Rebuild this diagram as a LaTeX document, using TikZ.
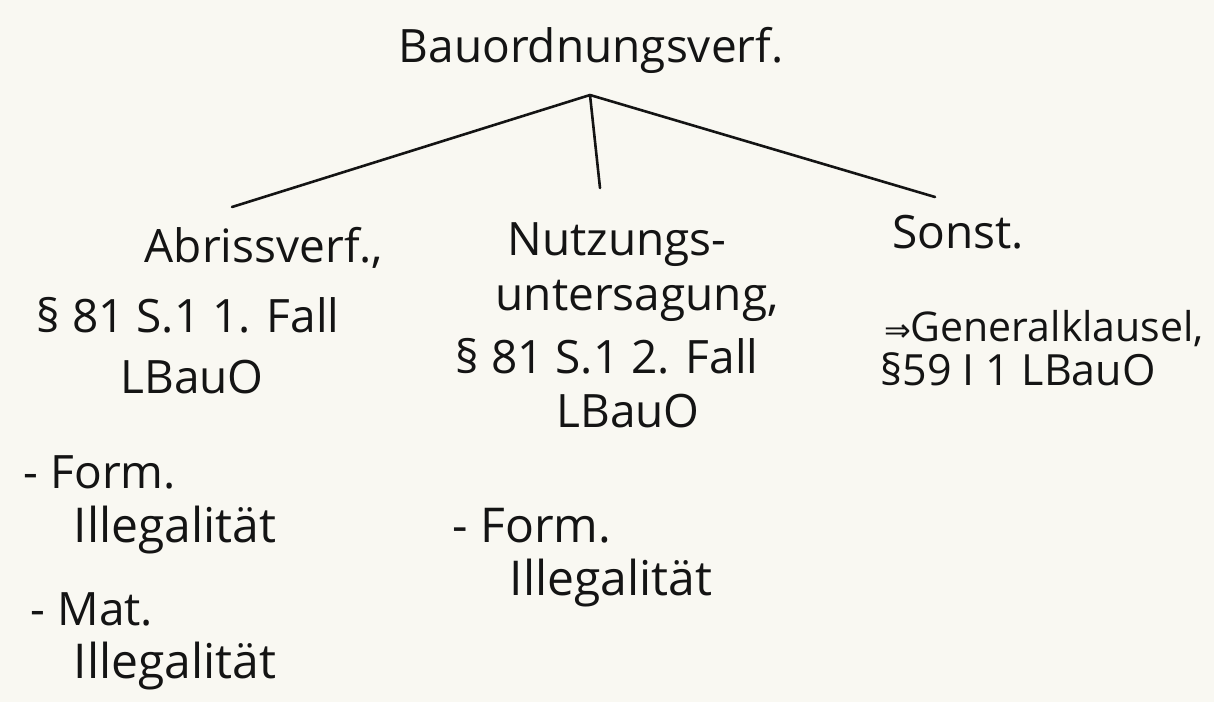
\documentclass[tikz,border=0pt]{standalone}
\usepackage{fontspec}
\setmainfont{Open Sans}
\newfontfamily\arrowfont{DejaVu Sans}
\definecolor{paper}{HTML}{F9F8F2}
\definecolor{ink}{HTML}{141414}
\begin{document}
\begin{tikzpicture}[x=1pt,y=-1pt,
  hand/.style={font=\fontsize{#1}{50}\selectfont, text=ink, inner sep=0pt, anchor=base},
  hand/.default=46,
  branch/.style={draw=ink, line width=2.6pt, line cap=round}]
\fill[paper] (0,0) rectangle (1214,702);
\useasboundingbox (0,0) rectangle (1214,702);
% root
\node[hand] (root) at (591,62) {Bauordnungsverf.};
\coordinate (hub) at (590,95);
% children
\node[hand] (abr) at (264,262) {Abrissverf.,};
\node[hand] (abr2) at (188,332) {§ 81 S.1 1. Fall};
\node[hand] (abr3) at (192,393) {LBauO};
\node[hand] (nutz) at (617,255) {Nutzungs-};
\node[hand] (nutz2) at (637,310) {untersagung,};
\node[hand] (nutz3) at (607,373) {§ 81 S.1 2. Fall};
\node[hand] (nutz4) at (628,427) {LBauO};
\node[hand] (sonst) at (958,248) {Sonst.};
\node[hand=41] (sonst2) at (1044,341) {{\arrowfont\fontsize{32}{34}\selectfont ⇒}Generalklausel,};
\node[hand=43] (sonst3) at (1018,385) {§59 I 1 LBauO};
% sub items
\node[hand] (a1) at (100,488) {- Form.};
\node[hand=48] (a1b) at (175,542) {Illegalität};
\node[hand] (a2) at (92,625) {- Mat.};
\node[hand=48] (a2b) at (175,678) {Illegalität};
\node[hand=48] (n1) at (532,542) {- Form.};
\node[hand=48] (n1b) at (611,595) {Illegalität};
% branch ends
\coordinate (endL) at (232,207);
\coordinate (endM) at (600,188);
\coordinate (endR) at (935,197);
\draw[branch] (hub) -- (endL);
\draw[branch] (hub) -- (endM);
\draw[branch] (hub) -- (endR);
\end{tikzpicture}
\end{document}
